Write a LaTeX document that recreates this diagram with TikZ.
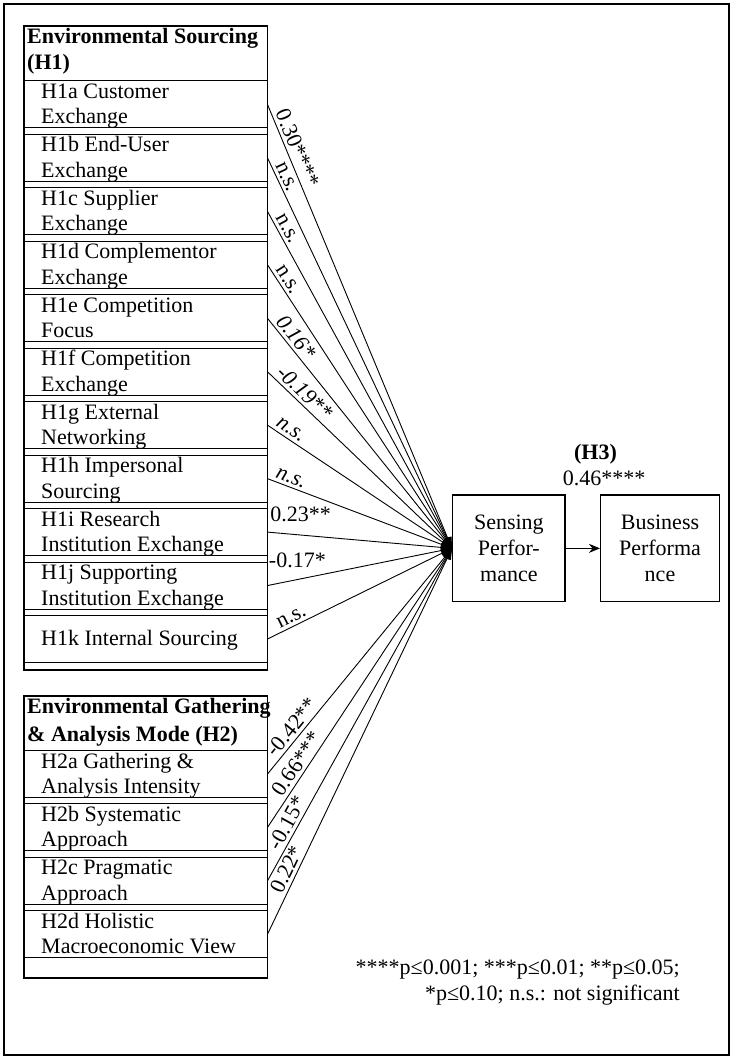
\documentclass[tikz,border=0pt]{standalone}
\usepackage{fontspec}
\setmainfont{Liberation Serif}
\usetikzlibrary{arrows.meta}

% one two-line hypothesis cell: name, top edge, first line, second line
\newcommand{\hypcell}[4]{%
  \node[cell] (#1) at (23,#2) {};
  \node[celltext] (#1-a) at (41,#2+18) {#3};
  \node[celltext] (#1-b) at (41,#2+43.5) {#4};
}

\begin{document}
\begin{tikzpicture}[x=1pt,y=-1pt,
  every node/.style={font=\fontsize{22}{26}\selectfont},
  frame/.style={line width=1.8pt},
  groupbox/.style={draw, line width=1.6pt, minimum width=243.5pt, inner sep=0pt, anchor=north west},
  cell/.style={draw, line width=1pt, minimum width=243.5pt, minimum height=47pt, inner sep=0pt, anchor=north west},
  celltext/.style={anchor=base west, inner sep=0pt},
  head/.style={anchor=base west, inner sep=0pt, font=\fontsize{22}{26}\selectfont\bfseries},
  link/.style={line width=0.9pt, -{Triangle[length=11pt,width=8pt]}},
  coef/.style={pos=0.015, sloped, anchor=south west, inner sep=3pt},
  coefit/.style={coef, font=\fontsize{22}{26}\selectfont\itshape},
  flat/.style={pos=0, anchor=south west, inner sep=0pt},
  outcome/.style={draw, line width=1.5pt, minimum height=106.7pt, inner sep=0pt, align=center}
]
\useasboundingbox (0,0) rectangle (733,1059);
\fill[white] (0,0) rectangle (733,1059);
\draw[frame] (4,4) rectangle (729,1055);

% ---- Environmental Sourcing (H1)
\node[groupbox, minimum height=644pt] (es) at (23,25) {};
\node[head] (es-a) at (27,43.5) {Environmental Sourcing};
\node[head] (es-b) at (27,70) {(H1)};
\hypcell{h1a}{80.5}{H1a Customer}{Exchange}
\hypcell{h1b}{133.95}{H1b End-User}{Exchange}
\hypcell{h1c}{187.4}{H1c Supplier}{Exchange}
\hypcell{h1d}{240.85}{H1d Complementor}{Exchange}
\hypcell{h1e}{294.3}{H1e Competition}{Focus}
\hypcell{h1f}{347.75}{H1f Competition}{Exchange}
\hypcell{h1g}{401.2}{H1g External}{Networking}
\hypcell{h1h}{454.65}{H1h Impersonal}{Sourcing}
\hypcell{h1i}{508.1}{H1i Research}{Institution Exchange}
\hypcell{h1j}{561.55}{H1j Supporting}{Institution Exchange}
\node[cell] (h1k) at (23,615) {};
\node[celltext] (h1k-a) at (41,645.7) {H1k Internal Sourcing};

% ---- Environmental Gathering & Analysis Mode (H2)
\node[groupbox, minimum height=282pt] (eg) at (23,695) {};
\node[head] (eg-a) at (27,713.3) {Environmental Gathering};
\node[head] (eg-b) at (27,741) {\& Analysis Mode (H2)};
\hypcell{h2a}{750}{H2a Gathering \&}{Analysis Intensity}
\hypcell{h2b}{803.4}{H2b Systematic}{Approach}
\hypcell{h2c}{856.8}{H2c Pragmatic}{Approach}
\hypcell{h2d}{910.2}{H2d Holistic}{Macroeconomic View}

% ---- outcomes
\node[outcome, minimum width=112.3pt] (sp) at (508.85,548.35) {Sensing\\Perfor-\\mance};
\node[outcome, minimum width=118.6pt] (bp) at (660,548.35) {Business\\Performa\\nce};
\draw[line width=1pt, -{Stealth[length=11pt,width=9pt]}] (sp) -- (bp);
\node[anchor=base, inner sep=0pt, font=\fontsize{22}{26}\selectfont\bfseries] (h3) at (595.5,459) {(H3)};
\node[anchor=base, inner sep=0pt] (h3c) at (604,485) {0.46****};

% ---- path coefficients
\draw[link] (h1a.east) -- node[coef] {0.30****} (sp.west);
\draw[link] (h1b.east) -- node[coef] {n.s.} (sp.west);
\draw[link] (h1c.east) -- node[coef] {n.s.} (sp.west);
\draw[link] (h1d.east) -- node[coef] {n.s.} (sp.west);
\draw[link] (h1e.east) -- node[coefit] {0.16*} (sp.west);
\draw[link] (h1f.east) -- node[coefit] {-0.19**} (sp.west);
\draw[link] (h1g.east) -- node[coefit] {n.s.} (sp.west);
\draw[link] (h1h.east) -- node[coefit] {n.s.} (sp.west);
\draw[link] (h1i.east) -- node[flat, xshift=2.5pt, yshift=10.3pt] {0.23**} (sp.west);
\draw[link] (h1j.east) -- node[flat, xshift=1pt, yshift=17.5pt] {-0.17*} (sp.west);
\draw[link] (h1k.east) -- node[coef, pos=0.06] {n.s.} (sp.west);
\draw[link] (h2a.east) -- node[coef, pos=0.05] {-0.42**} (sp.west);
\draw[link] (h2b.east) -- node[coef, pos=0.09] {0.66***} (sp.west);
\draw[link] (h2c.east) -- node[coef, pos=0.075] {-0.15*} (sp.west);
\draw[link] (h2d.east) -- node[coef, pos=0.09] {0.22*} (sp.west);

% ---- significance key
\node[anchor=base east, inner sep=0pt] (key1) at (680,974) {****p≤0.001; ***p≤0.01; **p≤0.05;};
\node[anchor=base east, inner sep=0pt] (key2) at (680,1000) {*p≤0.10; n.s.: not significant};
\end{tikzpicture}
\end{document}
